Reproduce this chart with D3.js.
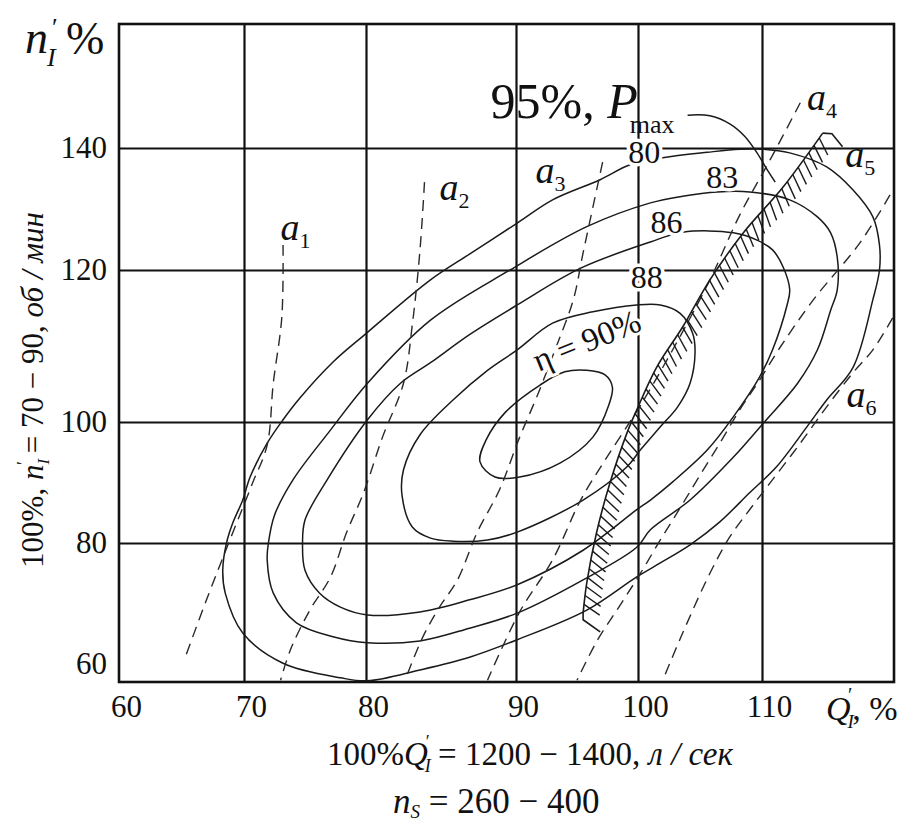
<!DOCTYPE html>
<html><head><meta charset="utf-8">
<script src="https://cdn.jsdelivr.net/npm/d3@7"></script>
<style>
html,body{margin:0;padding:0;background:#fff;}
svg{display:block;font-family:"Liberation Serif","Times New Roman",serif;}
</style></head><body>
<svg id="chart" width="914" height="827"></svg>
<script>
// ---------------- data (Q'_I %, n'_I %) ----------------
const xTicks = [60, 70, 80, 90, 100, 110];
const yTicks = [60, 80, 100, 120, 140];
const xGrid = [70, 80, 90, 100, 110];
const yGrid = [80, 100, 120, 140];
const xBreaks = [60, 70, 80, 90, 100, 110, 120];
const yBreaks = [57, 80, 100, 120, 140, 160];

// efficiency contours
const eff90 = [[95.8,106.8],[97.3,106.2],[97.9,104.6],[97.6,102.2],[96.3,97.5],[93.6,93.2],[90.3,90.9],[88.6,90.9],[87.6,93.4],[88.0,97.0],[89.3,101.3],[92.0,104.9],[94.0,106.6]];
const eff88 = [[83.6,97.9],[85.8,102.9],[88.1,106.8],[90.1,109.5],[93.0,113.0],[96.3,114.5],[99.9,115.4],[101.8,115.4],[103.4,114.3],[104.4,111.7],[104.6,109.1],[104.2,105.1],[103.2,102.0],[101.8,99.2],[100.2,95.4],[99.1,92.6],[95.5,87.1],[90.1,81.8],[88.1,80.5],[85.8,80.3],[84.3,80.8],[83.1,82.6],[82.4,87.9],[82.5,92.1]];
const eff86 = [[84.3,107.8],[86.9,111.5],[90.1,115.4],[95.3,120.3],[101.0,124.6],[103.6,126.2],[107.7,126.1],[109.6,124.9],[110.8,123.3],[111.6,120.5],[112.1,117.4],[111.9,115.4],[110.8,109.5],[109.8,105.9],[107.7,100.7],[105.6,95.4],[102.8,90.1],[101.0,87.1],[99.9,85.5],[95.5,78.8],[90.1,73.1],[86.9,70.6],[83.6,68.6],[80.1,68.1],[77.9,69.4],[76.2,71.7],[75.0,75.5],[74.8,80.0],[75.0,83.8],[76.8,90.4],[80.1,100.3],[82.3,105.1]];
const eff83 = [[84.3,113.4],[89.6,120.0],[95.8,127.1],[101.0,131.0],[103.6,132.1],[106.4,132.8],[109.0,132.8],[112.1,131.5],[114.2,128.7],[115.2,126.1],[115.7,122.1],[115.7,117.4],[115.2,114.7],[114.2,109.5],[112.7,105.1],[110.1,99.8],[107.7,94.2],[104.2,87.1],[101.0,82.2],[99.9,79.3],[95.5,73.9],[90.1,68.4],[86.9,65.9],[83.6,63.8],[80.1,63.5],[77.3,64.5],[74.3,66.8],[72.4,71.7],[71.9,77.2],[72.0,80.0],[72.5,84.6],[74.0,90.4],[77.1,98.7],[80.1,105.1]];
const eff80 = [[102.0,138.4],[105.6,139.3],[108.2,139.8],[110.1,139.8],[112.1,139.2],[114.9,136.9],[116.9,133.1],[118.4,128.7],[118.9,124.1],[118.9,120.0],[118.4,116.1],[116.9,107.2],[114.9,102.9],[113.4,99.2],[111.1,92.6],[109.0,88.3],[106.6,83.5],[104.2,79.7],[101.8,76.7],[99.9,74.4],[95.8,68.9],[90.1,64.0],[86.9,61.1],[83.6,59.0],[80.1,57.2],[77.9,57.7],[73.2,60.1],[69.9,65.1],[68.5,71.7],[68.3,75.5],[68.6,80.0],[69.1,83.3],[69.9,87.1],[70.5,90.9],[71.9,96.5],[73.2,100.3],[74.6,103.2],[77.3,107.9],[80.1,111.8],[84.3,118.7],[86.9,122.6],[90.1,127.7],[93.0,131.5],[96.9,134.8],[99.3,137.2]];

// leader from "95%, Pmax" label
const pmaxLeader = [[104.0,145.3],[105.8,145.2],[107.4,143.9],[108.6,141.9],[109.6,139.2],[110.4,136.4],[111.0,134.4]];
// hatched limit line
const limitLine = [[114.6,142.4],[111.6,133.6],[108.5,126.1],[105.8,118.7],[103.6,112.5],[101.5,107.2],[99.9,101.6],[99.1,98.2],[97.7,89.9],[96.6,81.7],[95.8,73.4],[95.5,68.4]];
const limitCapTop = [[116.1,140.2],[115.3,142.3],[114.6,142.4]];
const limitCapBottom = [[95.5,68.4],[95.5,67.3],[96.9,65.3]];

// guide-vane opening lines a1..a6
const a1 = [[73.2,124.1],[73.1,113.8],[72.4,105.1],[71.9,96.2],[70.7,89.9],[69.1,81.7],[67.0,70.6],[65.3,61.1]];
const a2 = [[83.9,134.4],[83.6,123.3],[83.1,113.0],[82.5,105.1],[81.1,97.5],[79.8,88.3],[78.4,81.7],[77.1,74.4],[75.4,68.9],[73.8,62.3],[73.0,57.3]];
const a3 = [[97.1,137.7],[95.5,122.8],[94.7,116.1],[93.2,109.5],[91.7,103.3],[90.3,97.5],[88.9,88.8],[87.4,81.7],[86.1,73.9],[84.9,69.4],[83.8,64.5],[82.6,57.3]];
const a4 = [[112.9,147.3],[110.6,138.0],[108.2,129.0],[105.8,118.7],[103.0,110.1],[100.2,102.2],[97.3,93.7],[95.3,87.1],[93.0,77.2],[90.3,68.6],[88.1,57.3]];
const a5 = [[119.7,132.3],[117.4,124.4],[113.9,116.1],[111.4,109.9],[109.8,105.5],[108.2,101.6],[106.6,96.5],[105.0,91.2],[103.4,85.8],[101.8,80.5],[100.2,75.0],[98.5,69.6],[96.7,64.0],[95.0,57.3]];
const a6 = [[119.9,113.7],[118.4,109.5],[116.9,106.5],[114.9,102.0],[112.7,95.9],[110.6,89.9],[109.0,85.5],[107.4,81.0],[105.8,75.0],[103.6,65.1],[102.0,57.3]];

const openingLabels = [
  {sub:"1", q:73.0, n:124.9}, {sub:"2", q:84.9, n:131.5}, {sub:"3", q:91.6, n:134.3},
  {sub:"4", q:113.4, n:146.1}, {sub:"5", q:116.3, n:136.9}, {sub:"6", q:116.4, n:102.0}
];
const effLabels = [
  {t:"80", q:100.5, n:139.3}, {t:"83", q:106.8, n:135.3},
  {t:"86", q:102.3, n:127.9}, {t:"88", q:100.7, n:119.1}
];
const etaLabel = {t:"η = 90%", q:95.8, n:110.7};
const pmaxLabel = {q:88.3, n:144.8};

// ---------------- drawing ----------------
const svg = d3.select("#chart");
const L = 119, R = 894, T = 24, B = 682;
const x = d3.scaleLinear().domain(xBreaks).range([119, 244, 366, 516, 638, 762, 894]);
const y = d3.scaleLinear().domain(yBreaks).range([682, 543, 422, 270, 148, 24]);
const ink = "#111";

// grid
const gx = svg.append("g").attr("transform", `translate(0,${B})`)
  .call(d3.axisBottom(x).tickValues(xGrid).tickSize(-(B - T)).tickFormat(""));
gx.select(".domain").remove();
gx.selectAll("line").attr("stroke", ink).attr("stroke-width", 2.2);
const gy = svg.append("g").attr("transform", `translate(${L},0)`)
  .call(d3.axisLeft(y).tickValues(yGrid).tickSize(-(R - L)).tickFormat(""));
gy.select(".domain").remove();
gy.selectAll("line").attr("stroke", ink).attr("stroke-width", 2.2);

// frame
svg.append("rect").attr("x", L).attr("y", T).attr("width", R - L).attr("height", B - T)
  .attr("fill", "none").attr("stroke", ink).attr("stroke-width", 2.6);

// tick labels
const xl = svg.append("g").attr("transform", `translate(0,${B})`)
  .call(d3.axisBottom(x).tickValues(xTicks).tickSize(0).tickPadding(13).tickFormat(d3.format("d")));
xl.select(".domain").remove();
xl.selectAll("text").attr("font-size", 31).attr("font-family", "Liberation Serif").attr("fill", ink).attr("dx", 7);
const yl = svg.append("g").attr("transform", `translate(${L},0)`)
  .call(d3.axisLeft(y).tickValues(yTicks).tickSize(0).tickPadding(12).tickFormat(d3.format("d")));
yl.select(".domain").remove();
yl.selectAll("text").attr("font-size", 31).attr("font-family", "Liberation Serif").attr("fill", ink);

const plot = svg.append("g");
const closed = d3.line().x(d => x(d[0])).y(d => y(d[1])).curve(d3.curveCatmullRomClosed.alpha(0.5));
const open = d3.line().x(d => x(d[0])).y(d => y(d[1])).curve(d3.curveCatmullRom.alpha(0.5));
const lin = d3.line().x(d => x(d[0])).y(d => y(d[1]));

// contours
[eff80, eff83, eff86, eff88, eff90].forEach(c => {
  plot.append("path").attr("d", closed(c)).attr("fill", "none")
    .attr("stroke", "#1a1a1a").attr("stroke-width", 1.5);
});
plot.append("path").attr("d", open(pmaxLeader)).attr("fill", "none")
  .attr("stroke", "#1a1a1a").attr("stroke-width", 1.5);

// dashed opening lines
[a1, a2, a3, a4, a5, a6].forEach(c => {
  plot.append("path").attr("d", open(c)).attr("fill", "none")
    .attr("stroke", "#2a2a2a").attr("stroke-width", 1.4).attr("stroke-dasharray", "11,7");
});

// hatched limit line
const limPath = plot.append("path").attr("d", open(limitLine)).attr("fill", "none")
  .attr("stroke", "#1a1a1a").attr("stroke-width", 1.6);
[limitCapTop, limitCapBottom].forEach(c => plot.append("path").attr("d", lin(c))
  .attr("fill", "none").attr("stroke", "#1a1a1a").attr("stroke-width", 1.6));
const node = limPath.node(), len = node.getTotalLength();
const th = 118 * Math.PI / 180, tl = 19;
for (let s = 6; s < len - 2; s += 9) {
  const p = node.getPointAtLength(s), q = node.getPointAtLength(Math.max(0, s - 1));
  let ux = q.x - p.x, uy = q.y - p.y; const m = Math.hypot(ux, uy) || 1; ux /= m; uy /= m;
  const dx = ux * Math.cos(th) - uy * Math.sin(th), dy = ux * Math.sin(th) + uy * Math.cos(th);
  plot.append("line").attr("x1", p.x).attr("y1", p.y).attr("x2", p.x + dx * tl).attr("y2", p.y + dy * tl)
    .attr("stroke", "#1a1a1a").attr("stroke-width", 1.4);
}

// labels
const lab = svg.append("g").attr("fill", ink).attr("font-family", "Liberation Serif");
openingLabels.forEach(d => {
  const t = lab.append("text").attr("x", x(d.q)).attr("y", y(d.n));
  t.append("tspan").text("a").attr("font-style", "italic").attr("font-size", 38);
  t.append("tspan").text(d.sub).attr("font-size", 22).attr("dy", 8);
});
effLabels.forEach(d => {
  lab.append("text").attr("x", x(d.q)).attr("y", y(d.n)).attr("text-anchor", "middle")
    .attr("dominant-baseline", "central").attr("font-size", 32)
    .attr("stroke", "#fff").attr("stroke-width", 7).attr("paint-order", "stroke").text(d.t);
});
lab.append("text").attr("transform", `translate(${x(etaLabel.q)},${y(etaLabel.n)}) rotate(-22)`)
  .attr("text-anchor", "middle").attr("dominant-baseline", "central").attr("font-size", 33)
  .attr("stroke", "#fff").attr("stroke-width", 6).attr("paint-order", "stroke").text(etaLabel.t);
const pm = lab.append("text").attr("x", x(pmaxLabel.q)).attr("y", y(pmaxLabel.n)).attr("font-size", 50);
pm.append("tspan").text("95%, ");
pm.append("tspan").text("P").attr("font-style", "italic");
pm.append("tspan").text("max").attr("font-size", 26).attr("dx", -8).attr("dy", 15);

// axis titles
const t1 = lab.append("text").attr("x", 25).attr("y", 53);
t1.append("tspan").text("n").attr("font-style", "italic").attr("font-size", 46);
t1.append("tspan").text("I").attr("font-style", "italic").attr("font-size", 26).attr("dx", -1).attr("dy", 13);
lab.append("text").attr("x", 52).attr("y", 36).attr("font-size", 26).text("′");
lab.append("text").attr("x", 66).attr("y", 54).attr("font-size", 46).text("%");

const yt = lab.append("text").attr("transform", "translate(43,390) rotate(-90)")
  .attr("text-anchor", "middle").attr("font-size", 31);
yt.append("tspan").text("100%, ");
yt.append("tspan").text("n").attr("font-style", "italic");
yt.append("tspan").text("I").attr("font-style", "italic").attr("font-size", 17).attr("dy", 6);
yt.append("tspan").text("′").attr("font-size", 18).attr("dx", -6).attr("dy", -19);
yt.append("tspan").text(" = 70 − 90, ").attr("dy", 13);
yt.append("tspan").text("об / мин").attr("font-style", "italic");

const qt = lab.append("text").attr("x", 826).attr("y", 720).attr("font-size", 34);
qt.append("tspan").text("Q").attr("font-style", "italic");
qt.append("tspan").text("I").attr("font-style", "italic").attr("font-size", 19).attr("dx", -3).attr("dy", 8);
qt.append("tspan").text("′").attr("font-size", 20).attr("dx", -6).attr("dy", -26);
qt.append("tspan").text(", %").attr("dy", 18);

const b1 = lab.append("text").attr("x", 327).attr("y", 765).attr("font-size", 33);
b1.append("tspan").text("100%");
b1.append("tspan").text("Q").attr("font-style", "italic");
b1.append("tspan").text("I").attr("font-style", "italic").attr("font-size", 18).attr("dx", -3).attr("dy", 7);
b1.append("tspan").text("′").attr("font-size", 18).attr("dx", -5).attr("dy", -24);
b1.append("tspan").text(" = 1200 − 1400, ").attr("dy", 17);
b1.append("tspan").text("л / сек").attr("font-style", "italic");

const b2 = lab.append("text").attr("x", 393).attr("y", 813).attr("font-size", 35);
b2.append("tspan").text("n").attr("font-style", "italic");
b2.append("tspan").text("S").attr("font-style", "italic").attr("font-size", 19).attr("dy", 5);
b2.append("tspan").text(" = 260 − 400").attr("dy", -5);
</script>
</body></html>
